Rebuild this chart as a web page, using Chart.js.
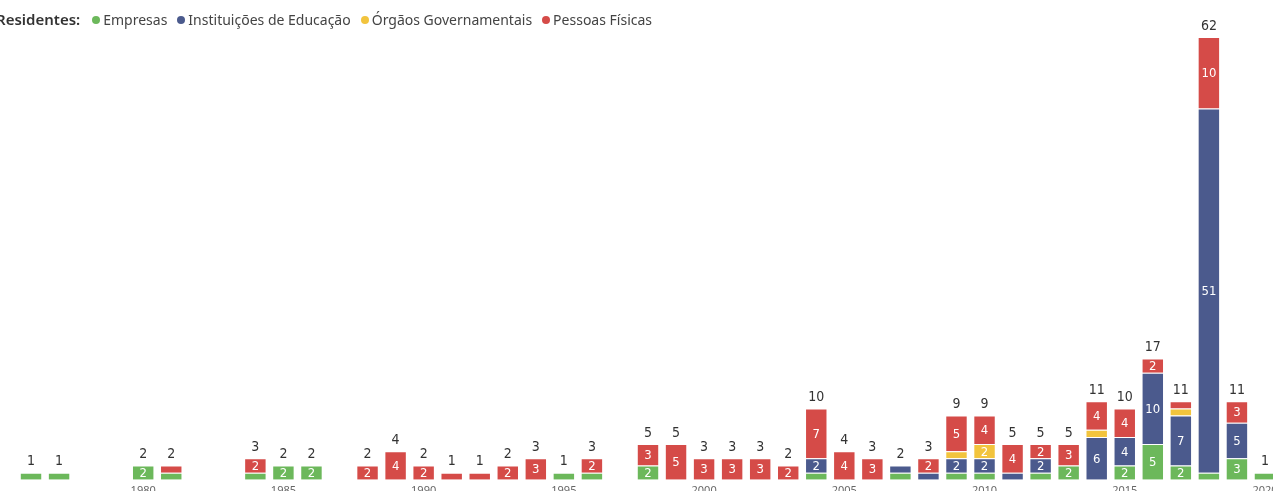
<!DOCTYPE html>
<html>
<head>
<meta charset="utf-8">
<script src="https://cdn.jsdelivr.net/npm/chart.js@4.4.1/dist/chart.umd.min.js"></script>
<style>
  html, body { margin: 0; padding: 0; background: #fff; overflow: hidden; }
  #wrap { position: absolute; left: 0; top: 0; width: 1290px; height: 501px; }
  #legend { position: absolute; left: -4px; top: 9px; font-family: "Noto Sans", "Open Sans", sans-serif; font-size: 14px; color: #444; white-space: nowrap; }
  #legend .title { color: #333; font-weight: 600; font-size: 15px; margin-right: 12px; }
  #legend .item { margin-right: 10px; }
  #legend .dot { display: inline-block; width: 8px; height: 8px; border-radius: 50%; margin-right: 3px; vertical-align: 1px; }
</style>
</head>
<body>
<div id="wrap"><canvas id="myChart" width="1290" height="501"></canvas></div>
<div id="legend"><span class="title">Residentes:</span></div>
<script>
"use strict";

const years = [
    1976, 1977, 1978, 1979,
    1980, 1981, 1982, 1983, 1984, 1985, 1986, 1987, 1988, 1989,
    1990, 1991, 1992, 1993, 1994, 1995, 1996, 1997, 1998, 1999,
    2000, 2001, 2002, 2003, 2004, 2005, 2006, 2007, 2008, 2009,
    2010, 2011, 2012, 2013, 2014, 2015, 2016, 2017, 2018, 2019,
    2020
];
const empresas = [
    1, 1, null, null,
    2, 1, null, null, 1, 2, 2, null, null, null,
    null, null, null, null, null, 1, 1, null, 2, null,
    null, null, null, null, 1, null, null, 1, null, 1,
    1, null, 1, 2, null, 2, 5, 2, 1, 3,
    1
];
const instituicoes = [
    null, null, null, null,
    null, null, null, null, null, null, null, null, null, null,
    null, null, null, null, null, null, null, null, null, null,
    null, null, null, null, 2, null, null, 1, 1, 2,
    2, 1, 2, null, 6, 4, 10, 7, 51, 5,
    null
];
const orgaos = [
    null, null, null, null,
    null, null, null, null, null, null, null, null, null, null,
    null, null, null, null, null, null, null, null, null, null,
    null, null, null, null, null, null, null, null, null, 1,
    2, null, null, null, 1, null, null, 1, null, null,
    null
];
const pessoas = [
    null, null, null, null,
    null, 1, null, null, 2, null, null, null, 2, 4,
    2, 1, 1, 2, 3, null, 2, null, 3, 5,
    3, 3, 3, 2, 7, 4, 3, null, 2, 5,
    4, 4, 2, 3, 4, 4, 2, 1, 10, 3,
    null
];

const seriesNames = ["Empresas", "Instituições de Educação", "Órgãos Governamentais", "Pessoas Físicas"];
const seriesColors = ["#6cb85b", "#4b5a8d", "#f2c43d", "#d54b48"];
const seriesData = [empresas, instituicoes, orgaos, pessoas];

// legend
let legend = document.getElementById("legend");
for (let i = 0; i < seriesNames.length; i++) {
    let item = document.createElement("span");
    item.className = "item";
    let dot = document.createElement("span");
    dot.className = "dot";
    dot.style.background = seriesColors[i];
    item.appendChild(dot);
    item.appendChild(document.createTextNode(seriesNames[i]));
    legend.appendChild(item);
}

const labelFont = '"DejaVu Sans Condensed", "DejaVu Sans", sans-serif';

// draws segment values and totals
const barLabels = {
    id: "barLabels",
    afterDatasetsDraw(chart) {
        let ctx = chart.ctx;
        ctx.save();
        ctx.textAlign = "center";
        ctx.textBaseline = "middle";
        ctx.font = "13px " + labelFont;
        ctx.fillStyle = "#ffffff";
        chart.data.datasets.forEach(function (ds, d) {
            let meta = chart.getDatasetMeta(d);
            meta.data.forEach(function (bar, i) {
                let v = ds.data[i];
                if (v != null && v >= 2) {
                    ctx.fillText(String(v), bar.x, (bar.y + bar.base) / 2 + 1);
                }
            });
        });
        ctx.fillStyle = "#333333";
        ctx.font = "14px " + labelFont;
        let yScale = chart.scales.y;
        let xScale = chart.scales.x;
        for (let i = 0; i < years.length; i++) {
            let total = 0;
            seriesData.forEach(function (s) { total += s[i] || 0; });
            if (total > 0) {
                ctx.fillText(String(total), xScale.getPixelForValue(i), yScale.getPixelForValue(total) - 11);
            }
        }
        ctx.restore();
    }
};

let datasets = [];
for (let i = 0; i < seriesNames.length; i++) {
    datasets.push({
        label: seriesNames[i],
        data: seriesData[i],
        backgroundColor: seriesColors[i],
        borderColor: "rgba(255,255,255,0.45)",
        borderWidth: 1,
        barPercentage: 0.8,
        categoryPercentage: 1.0
    });
}

let myChart = new Chart(document.getElementById("myChart"), {
    type: "bar",
    data: { labels: years, datasets: datasets },
    options: {
        responsive: false,
        animation: false,
        layout: { padding: { left: 17, right: 11, top: 37, bottom: 0 } },
        plugins: {
            legend: { display: false },
            tooltip: { enabled: false }
        },
        scales: {
            x: {
                stacked: true,
                grid: { display: false, drawTicks: false },
                border: { display: false },
                ticks: {
                    autoSkip: false,
                    maxRotation: 0,
                    padding: 4,
                    color: "#666",
                    font: { size: 11, family: '"Noto Sans", sans-serif' },
                    callback: function (value) {
                        let y = years[value];
                        return y % 5 === 0 ? String(y) : "";
                    }
                }
            },
            y: {
                stacked: true,
                display: false,
                min: 0,
                max: 62
            }
        }
    },
    plugins: [barLabels]
});
</script>
</body>
</html>
